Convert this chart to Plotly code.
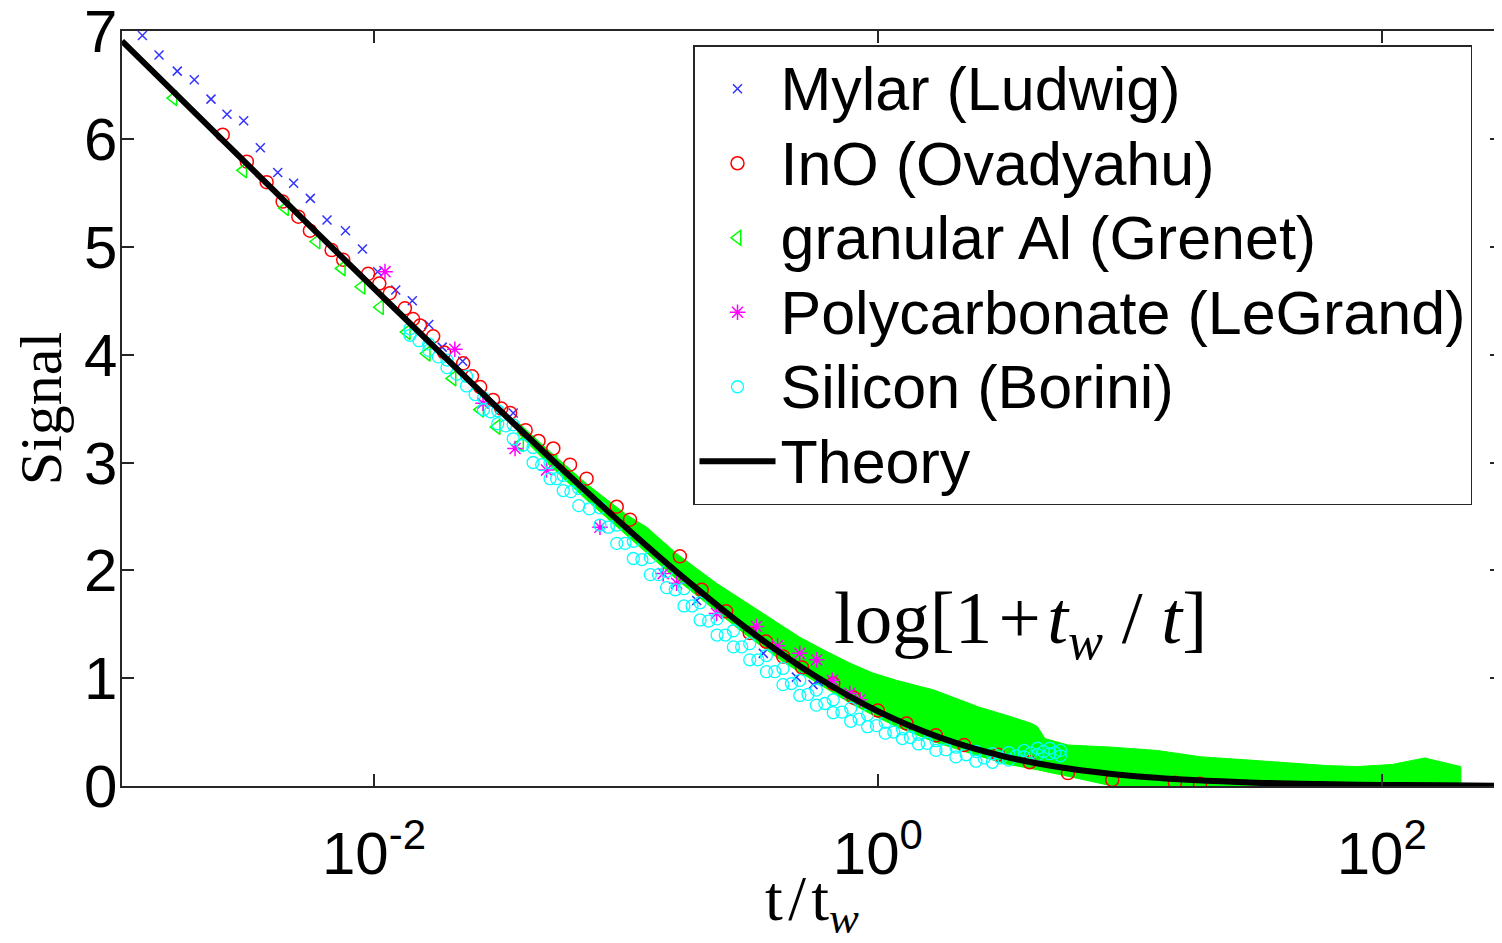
import plotly.graph_objects as go

# ---------------- data ----------------
# Mylar (Ludwig)
mylar_x = [1.205e-3, 1.403e-3, 1.657e-3, 1.936e-3, 2.255e-3, 2.61e-3, 3.04e-3, 3.54e-3,
           4.15e-3, 4.80e-3, 5.59e-3, 6.51e-3, 7.71e-3, 9.0e-3, 1.035e-2, 1.22e-2,
           1.42e-2, 1.65e-2, 1.866e-2, 2.25e-2, 3.57e-2, 0.191, 0.351, 0.475, 0.553, 0.58]
mylar_y = [6.96, 6.78, 6.63, 6.55, 6.37, 6.23, 6.17, 5.92,
           5.69, 5.59, 5.45, 5.25, 5.15, 4.98, 4.77, 4.60,
           4.50, 4.28, 4.07, 3.94, 3.46, 1.72, 1.23, 1.01, 0.94, 0.97]

# InO (Ovadyahu)
ino_x = [2.51e-3, 3.13e-3, 3.75e-3, 4.34e-3, 5.01e-3, 5.57e-3, 6.79e-3, 7.55e-3, 9.48e-3,
         1.05e-2, 1.156e-2, 1.327e-2, 1.43e-2, 1.524e-2, 1.718e-2, 1.9e-2, 2.26e-2, 2.45e-2,
         2.64e-2, 2.97e-2, 3.2e-2, 3.47e-2, 4.0e-2, 4.5e-2, 5.15e-2, 6.0e-2, 6.98e-2, 9.19e-2,
         0.1038, 0.1637, 0.20, 0.25, 0.31, 0.36, 0.421, 0.50, 0.665, 0.80, 1.0, 1.3, 1.7,
         2.2, 3.0, 4.0, 5.68, 8.52, 15.1, 19.0]
ino_y = [6.04, 5.79, 5.60, 5.42, 5.28, 5.15, 4.97, 4.88, 4.75,
         4.66, 4.57, 4.43, 4.33, 4.27, 4.17, 4.02, 3.92, 3.80,
         3.70, 3.58, 3.50, 3.46, 3.30, 3.20, 3.13, 2.98, 2.85, 2.59,
         2.47, 2.13, 1.82, 1.62, 1.42, 1.34, 1.20, 1.10, 0.95, 0.82, 0.70, 0.58, 0.47,
         0.38, 0.29, 0.22, 0.12, 0.056, 0.03, 0.02]

# granular Al (Grenet): sparse markers at short times
gran_x = [1.6e-3, 3.03e-3, 4.44e-3, 5.92e-3, 7.45e-3, 8.93e-3, 1.057e-2, 1.35e-2,
          1.62e-2, 2.05e-2, 2.64e-2, 3.07e-2, 3.8e-2, 5.15e-2]
gran_y = [6.38, 5.71, 5.36, 5.05, 4.80, 4.63, 4.44, 4.21,
          4.01, 3.78, 3.49, 3.33, 3.17, 3.00]
# granular Al (Grenet): dense cloud, upper / lower envelope
gran_band_x = [0.037, 0.05, 0.07, 0.1, 0.121, 0.16, 0.229, 0.3, 0.421, 0.49, 0.6, 0.774,
               0.95, 1.186, 1.67, 2.5, 3.3, 4.08, 4.3, 4.6, 5.68, 8.52, 12.8, 19.3, 30,
               43.5, 60, 80, 110, 148, 180, 206]
gran_band_upper = [3.38, 3.10, 2.80, 2.52, 2.40, 2.15, 1.88, 1.70, 1.48, 1.38, 1.27, 1.14,
                   1.05, 0.98, 0.89, 0.735, 0.65, 0.58, 0.55, 0.44, 0.38, 0.36, 0.33, 0.27, 0.24,
                   0.21, 0.19, 0.18, 0.20, 0.26, 0.21, 0.18]
gran_band_lower = [3.28, 2.97, 2.65, 2.33, 2.16, 1.91, 1.62, 1.40, 1.15, 1.05, 0.93, 0.77,
                   0.66, 0.55, 0.41, 0.28, 0.20, 0.16, 0.15, 0.14, 0.09, 0.0, -0.05, -0.07, -0.08,
                   -0.08, -0.09, -0.08, -0.08, -0.08, -0.08, -0.08]

# Polycarbonate (LeGrand)
poly_x = [0.01106, 0.02094, 0.0271, 0.0363, 0.0484, 0.0789, 0.1406, 0.159, 0.229,
          0.33, 0.40, 0.49, 0.572, 0.66, 0.774, 0.85]
poly_y = [4.77, 4.05, 3.55, 3.13, 2.93, 2.40, 1.97, 1.88, 1.60,
          1.48, 1.30, 1.23, 1.17, 0.98, 0.86, 0.80]

# Silicon (Borini): the cloud read as three rows
silicon_x = [0.0139, 0.0165, 0.0195, 0.0233, 0.0272, 0.031, 0.0357, 0.0428, 0.050, 0.0564,
             0.065, 0.0789, 0.092, 0.107, 0.125, 0.145, 0.17, 0.197, 0.23, 0.267, 0.31,
             0.361, 0.42, 0.49, 0.57, 0.665, 0.78, 0.91, 1.07, 1.25, 1.45, 1.7, 2.04,
             2.45, 2.85, 3.3, 3.8, 4.3, 4.8, 5.3]
silicon_y_upper = [4.24, 4.10, 3.95, 3.80, 3.60, 3.48, 3.35, 3.14, 3.00, 2.88,
                   2.76, 2.58, 2.42, 2.27, 2.12, 1.99, 1.83, 1.70, 1.55, 1.44, 1.32,
                   1.21, 1.09, 0.98, 0.89, 0.80, 0.72, 0.66, 0.59, 0.53, 0.48, 0.42, 0.36,
                   0.32, 0.30, 0.31, 0.33, 0.35, 0.35, 0.33]
silicon_y_lower = [4.18, 4.04, 3.88, 3.71, 3.49, 3.36, 3.22, 3.00, 2.85, 2.74,
                   2.60, 2.42, 2.25, 2.11, 1.96, 1.84, 1.67, 1.54, 1.40, 1.29, 1.17,
                   1.06, 0.94, 0.84, 0.75, 0.68, 0.60, 0.55, 0.49, 0.44, 0.39, 0.33, 0.27,
                   0.23, 0.22, 0.24, 0.27, 0.29, 0.30, 0.28]
silicon_x_mid = [0.0151, 0.018, 0.0213, 0.0252, 0.029, 0.0333, 0.039, 0.0463, 0.0531, 0.0605,
                 0.0716, 0.0852, 0.0992, 0.1157, 0.1347, 0.157, 0.183, 0.213, 0.248, 0.288,
                 0.334, 0.39, 0.454, 0.528, 0.616, 0.72, 0.843, 0.987, 1.157, 1.346, 1.57,
                 1.86, 2.24, 2.64, 3.07, 3.54, 4.04, 4.54, 5.04]
silicon_y_mid = [4.13, 3.98, 3.82, 3.63, 3.47, 3.34, 3.16, 2.98, 2.85, 2.73,
                 2.57, 2.40, 2.25, 2.10, 1.96, 1.82, 1.67, 1.53, 1.40, 1.29,
                 1.17, 1.06, 0.95, 0.85, 0.765, 0.685, 0.62, 0.56, 0.50, 0.45, 0.395,
                 0.335, 0.29, 0.26, 0.26, 0.28, 0.305, 0.32, 0.31]

# Theory  log[1 + t_w / t]
theory_x = [1e-3, 1.78e-3, 3.16e-3, 5.62e-3, 1e-2, 1.78e-2, 3.16e-2, 5.62e-2, 0.1, 0.178,
            0.316, 0.562, 1.0, 1.78, 3.16, 5.62, 10, 17.8, 31.6, 56.2, 100, 178, 300]
theory_y = [6.909, 6.334, 5.760, 5.186, 4.615, 4.047, 3.485, 2.933, 2.398, 1.891,
            1.426, 1.022, 0.693, 0.446, 0.275, 0.164, 0.095, 0.055, 0.031, 0.018, 0.010,
            0.006, 0.003]

x_tickvals = [1e-2, 1, 1e2]
x_ticktext = ["10<sup>-2</sup>", "10<sup>0</sup>", "10<sup>2</sup>"]
y_tickvals = [0, 1, 2, 3, 4, 5, 6, 7]
y_ticktext = ["0", "1", "2", "3", "4", "5", "6", "7"]

# ---------------- figure ----------------
SANS = "Liberation Sans, Arial, Helvetica, sans-serif"
SERIF = "Liberation Serif, Times New Roman, serif"
AX = "#262626"


def lg(name):
    return '<span style="font-size:61px">' + name + "</span>"


fig = go.Figure()

# dense green cloud (drawn first, underneath)
fig.add_trace(go.Scatter(
    x=gran_band_x + gran_band_x[::-1],
    y=gran_band_upper + gran_band_lower[::-1],
    fill="toself", fillcolor="#00ff00", mode="lines",
    line=dict(color="#00ff00", width=1), showlegend=False, hoverinfo="skip"))

fig.add_trace(go.Scatter(
    x=mylar_x, y=mylar_y, mode="markers", name=lg("Mylar (Ludwig)"), legendrank=1,
    marker=dict(symbol="x-thin-open", size=9, color="#3333ff", line=dict(color="#3333ff", width=1.5))))

fig.add_trace(go.Scatter(
    x=ino_x, y=ino_y, mode="markers", name=lg("InO (Ovadyahu)"), legendrank=2,
    marker=dict(symbol="circle-open", size=13, color="#ff0000", line=dict(width=1.5))))

fig.add_trace(go.Scatter(
    x=gran_x, y=gran_y, mode="markers", name=lg("granular Al (Grenet)"), legendrank=3,
    marker=dict(symbol="triangle-left-open", size=13, color="#00ff00", line=dict(width=1.5))))

fig.add_trace(go.Scatter(
    x=poly_x, y=poly_y, mode="markers", name=lg("Polycarbonate (LeGrand)"), legendrank=4,
    marker=dict(symbol="asterisk-open", size=13, color="#ff00ff", line=dict(color="#ff00ff", width=1.5))))

fig.add_trace(go.Scatter(
    x=silicon_x + silicon_x_mid + silicon_x,
    y=silicon_y_upper + silicon_y_mid + silicon_y_lower, mode="markers",
    name=lg("Silicon (Borini)"), legendrank=5,
    marker=dict(symbol="circle-open", size=12, color="#00ffff", line=dict(width=1.3))))

fig.add_trace(go.Scatter(
    x=theory_x, y=theory_y, mode="lines", name=lg("Theory"), legendrank=6,
    line=dict(color="black", width=6, shape="spline")))

fig.add_annotation(
    text="log[1\u200a+\u200a<i>t</i><sub><i>w</i></sub> / <i>t</i>]",
    xref="paper", yref="paper", x=(832 - 122) / 1380, y=(786 - 623) / 755,
    xanchor="left", yanchor="middle", showarrow=False,
    font=dict(family=SERIF, size=75, color="black"))

# the page body adds an 8 px offset, so the figure is laid out 8 px smaller
fig.update_layout(
    width=1494, height=935,
    margin=dict(l=114, r=0, t=23, b=157, autoexpand=False),
    paper_bgcolor="white", plot_bgcolor="white",
    font=dict(family=SANS, color="black"),
    legend=dict(
        x=(693 - 122) / 1380, y=(786 - 45) / 755, xanchor="left", yanchor="top",
        bgcolor="white", bordercolor=AX, borderwidth=1.5,
        font=dict(family=SANS, size=55, color="black"),
        itemwidth=76, traceorder="normal"),
    showlegend=True,
)

fig.update_xaxes(
    type="log", range=[-3, 2.4771], automargin=False,
    tickvals=x_tickvals, ticktext=x_ticktext,
    ticks="inside", ticklen=12, tickwidth=1.5, tickcolor=AX,
    showline=True, linecolor=AX, linewidth=1.5, mirror="ticks",
    showgrid=False, zeroline=False, ticklabeloverflow="allow", ticklabelstandoff=14,
    tickfont=dict(family=SANS, size=60, color="black"),
    title=dict(text="t\u200a/\u200at<sub><i>w</i></sub>",
               font=dict(family=SERIF, size=64, color="black"), standoff=0),
)
fig.update_yaxes(
    range=[0, 7.002], automargin=False,
    tickvals=y_tickvals, ticktext=y_ticktext,
    ticks="inside", ticklen=12, tickwidth=1.5, tickcolor=AX,
    showline=True, linecolor=AX, linewidth=1.5, mirror="ticks",
    showgrid=False, zeroline=False, ticklabelstandoff=-9, ticklabeloverflow="allow",
    tickfont=dict(family=SANS, size=60, color="black"),
    title=dict(text="Signal", font=dict(family=SERIF, size=60, color="black"), standoff=4),
)

fig.write_html("out.html")
